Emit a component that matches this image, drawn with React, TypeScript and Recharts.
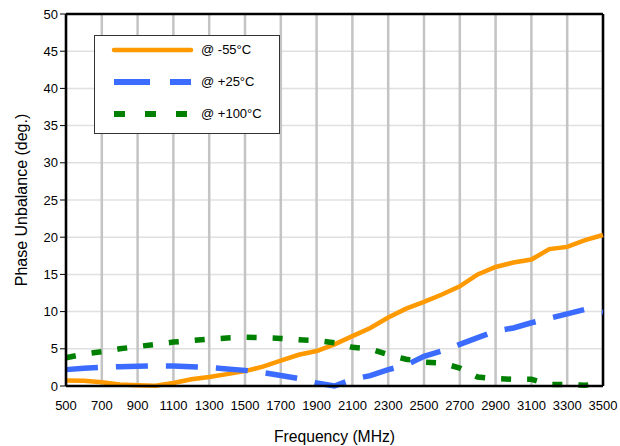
import React from 'react';
import { LineChart, Line, XAxis, YAxis, CartesianGrid, ReferenceLine } from 'recharts';

const freqs = [500, 600, 700, 800, 900, 1000, 1100, 1200, 1300, 1400, 1500, 1600, 1700, 1800, 1900, 2000, 2100, 2200, 2300, 2400, 2500, 2600, 2700, 2800, 2900, 3000, 3100, 3200, 3300, 3400, 3500];
const minus55 = [0.75, 0.7, 0.5, 0.2, 0.1, 0.05, 0.4, 0.9, 1.2, 1.6, 2.0, 2.6, 3.4, 4.2, 4.7, 5.6, 6.7, 7.8, 9.2, 10.4, 11.3, 12.3, 13.4, 15.0, 16.0, 16.6, 17.0, 18.4, 18.7, 19.6, 20.3];
const plus25 = [2.2, 2.4, 2.5, 2.6, 2.65, 2.7, 2.7, 2.6, 2.5, 2.3, 2.1, 1.8, 1.4, 1.0, 0.4, 0.0, 0.9, 1.4, 2.2, 2.8, 4.0, 4.7, 5.6, 6.5, 7.4, 7.8, 8.5, 9.1, 9.7, 10.3, 9.9];
const plus100 = [3.8, 4.3, 4.6, 5.0, 5.3, 5.6, 5.9, 6.1, 6.3, 6.45, 6.55, 6.5, 6.4, 6.2, 6.1, 5.8, 5.2, 5.0, 4.2, 3.6, 3.2, 3.1, 2.4, 1.2, 1.0, 0.9, 0.9, 0.2, 0.2, 0.1, 0.4];
const xTicks = [500, 700, 900, 1100, 1300, 1500, 1700, 1900, 2100, 2300, 2500, 2700, 2900, 3100, 3300, 3500];
const yTicks = [0, 5, 10, 15, 20, 25, 30, 35, 40, 45, 50];
const seriesNames = ['@ -55°C', '@ +25°C', '@ +100°C'];

const data = freqs.map((f, i) => ({ f, a: minus55[i], b: plus25[i], c: plus100[i] }));

const legendItems = [
  { name: seriesNames[0], color: '#FF9900', dash: undefined, w: 4.5 },
  { name: seriesNames[1], color: '#3B6CFF', dash: '36 20', w: 6 },
  { name: seriesNames[2], color: '#008000', dash: '11 20', w: 6 },
];

const CustomLegend = () => (
  <div style={{ position: 'absolute', left: 94, top: 35, width: 186, height: 99, border: '1px solid #333', background: '#fff', boxSizing: 'border-box' }}>
    {legendItems.map((it, i) => (
      <div key={i} style={{ position: 'absolute', left: 0, top: 3 + i * 32, height: 22, width: 184 }}>
        <svg width={100} height={22} style={{ position: 'absolute', left: 16, top: 0 }}>
          <line x1={3} y1={11} x2={80} y2={11} stroke={it.color} strokeWidth={it.w} strokeDasharray={it.dash} strokeLinecap={it.dash ? 'butt' : 'round'} />
        </svg>
        <span style={{ position: 'absolute', left: 106, top: 3, fontFamily: 'Liberation Sans, Arial, sans-serif', fontSize: 13, color: '#000', whiteSpace: 'nowrap' }}>{it.name}</span>
      </div>
    ))}
  </div>
);

export default function App() {
  const font = 'Liberation Sans, Arial, sans-serif';
  return (
    <div style={{ position: 'absolute', left: 0, top: 0, width: 620, height: 446, background: '#fff' }}>
      <LineChart width={620} height={446} data={data} margin={{ top: 14, right: 17, bottom: 0, left: 0 }}>
        <CartesianGrid horizontal={true} vertical={false} stroke="#e0e0e0" strokeWidth={1.5} />
        <CartesianGrid horizontal={false} vertical={true} stroke="#c4c4c4" strokeWidth={2.5} />
        <XAxis
          dataKey="f"
          type="number"
          domain={[500, 3500]}
          ticks={xTicks}
          interval={0}
          height={60}
          axisLine={{ stroke: '#000', strokeWidth: 2.5 }}
          tickLine={false}
          tickSize={5}
          tickMargin={10}
          tick={{ fill: '#000', fontSize: 13, fontFamily: font }}
          label={{ value: 'Frequency (MHz)', position: 'insideBottom', offset: 4, style: { fill: '#000', fontSize: 15.7, fontFamily: font } }}
        />
        <YAxis
          type="number"
          domain={[0, 50]}
          ticks={yTicks}
          interval={0}
          width={66}
          axisLine={{ stroke: '#000', strokeWidth: 2.5 }}
          tickLine={{ stroke: '#000', strokeWidth: 1 }}
          tickSize={6}
          tickMargin={2}
          tick={{ fill: '#000', fontSize: 13, fontFamily: font }}
          label={{ value: 'Phase Unbalance (deg.)', angle: -90, position: 'insideLeft', offset: 21, style: { fill: '#000', fontSize: 16, fontFamily: font, textAnchor: 'middle' } }}
        />
        <ReferenceLine y={50} stroke="#000" strokeWidth={2.5} ifOverflow="visible" />
        <ReferenceLine x={3500} stroke="#000" strokeWidth={2.5} ifOverflow="visible" />
        <Line type="linear" dataKey="a" name={seriesNames[0]} stroke="#FF9900" strokeWidth={4.5} dot={false} isAnimationActive={false} />
        <Line type="linear" dataKey="b" name={seriesNames[1]} stroke="#3B6CFF" strokeWidth={5.5} strokeDasharray="32 18" dot={false} isAnimationActive={false} />
        <Line type="linear" dataKey="c" name={seriesNames[2]} stroke="#008000" strokeWidth={5.5} strokeDasharray="10 16" dot={false} isAnimationActive={false} />
      </LineChart>
      <CustomLegend />
    </div>
  );
}
